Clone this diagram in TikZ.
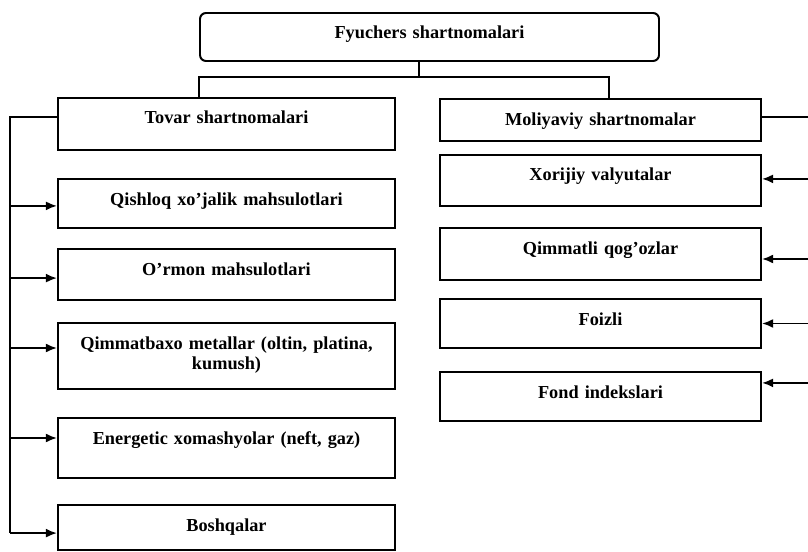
\documentclass[tikz,border=0pt]{standalone}
\usepackage{fontspec}
\setmainfont{Liberation Serif}
\usetikzlibrary{arrows.meta}

\begin{document}
\begin{tikzpicture}[>={Latex[length=8pt,width=6.5pt]},line width=1.4pt,
  box/.style={draw,inner xsep=0pt,inner ysep=0pt,align=center,text height=0.65cm,
    font=\bfseries\fontsize{13}{14.5}\selectfont},
  lbox/.style={box,text width=8.425cm},
  rbox/.style={box,text width=8.025cm}]

  \useasboundingbox (0,0) rectangle (20.2,-13.8);

  \node[box,rounded corners=0.15cm,text width=11.475cm,text depth=0.55cm] (fyu) at (10.7375,-0.925) {Fyuchers shartnomalari};

  % left column
  \node[lbox,text depth=0.65cm] (tovar) at (5.6625,-3.1) {Tovar shartnomalari};
  \node[lbox,text depth=0.575cm,node distance=1.9875cm] (qishloq) [below of=tovar] {Qishloq xo'jalik mahsulotlari};
  \node[lbox,text depth=0.625cm,node distance=1.775cm] (ormon) [below of=qishloq] {O'rmon mahsulotlari};
  \node[lbox,text depth=1.0cm,node distance=2.0375cm] (qimmat) [below of=ormon] {Qimmatbaxo metallar (oltin, platina,\\ kumush)};
  \node[lbox,text depth=0.85cm,node distance=2.3cm] (energ) [below of=qimmat] {Energetic xomashyolar (neft, gaz)};
  \node[lbox,text depth=0.475cm,node distance=1.9875cm] (boshq) [below of=energ] {Boshqalar};

  % right column
  \node[rbox,text depth=0.4cm] (moli) at (15.0125,-3.0) {Moliyaviy shartnomalar};
  \node[rbox,text depth=0.625cm,node distance=1.5125cm] (xorijiy) [below of=moli] {Xorijiy valyutalar};
  \node[rbox,text depth=0.65cm,node distance=1.8375cm] (qimmatli) [below of=xorijiy] {Qimmatli qog'ozlar};
  \node[rbox,text depth=0.575cm,node distance=1.7375cm] (foizli) [below of=qimmatli] {Foizli};
  \node[rbox,text depth=0.575cm,node distance=1.825cm] (fond) [below of=foizli] {Fond indekslari};

  % top split
  \draw ([xshift=-0.26cm]fyu.south) -- ++(0,-0.375);
  \draw ([xshift=-0.6875cm]tovar.north) |- ([xshift=-0.26cm,yshift=-0.375cm]fyu.south) -| ([xshift=0.2125cm]moli.north);

  % left spine
  \coordinate (lsp) at (0.25,0);
  \path ([yshift=0.175cm]tovar.west) coordinate (ltop) ([yshift=-0.14cm]boshq.west) coordinate (lbot);
  \draw (ltop) -- (lsp |- ltop) -- (lsp |- lbot);
  \foreach \n/\s in {qishloq/-0.06,ormon/-0.09,qimmat/0.2,energ/0.25,boshq/-0.14} {
    \path ([yshift=\s cm]\n.west) coordinate (tip);
    \draw[->] (lsp |- tip) -- (tip);
  }

  % right spine
  \coordinate (rsp) at (20.25,0);
  \path ([yshift=0.075cm]moli.east) coordinate (rtop) ([yshift=0.34cm]fond.east) coordinate (rbot);
  \draw (rtop) -- (rsp |- rtop) -- (rsp |- rbot);
  \foreach \n/\s in {xorijiy/0.04,qimmatli/-0.125,foizli/0,fond/0.34} {
    \path ([yshift=\s cm]\n.east) coordinate (tip);
    \draw[->] (rsp |- tip) -- (tip);
  }
\end{tikzpicture}
\end{document}
